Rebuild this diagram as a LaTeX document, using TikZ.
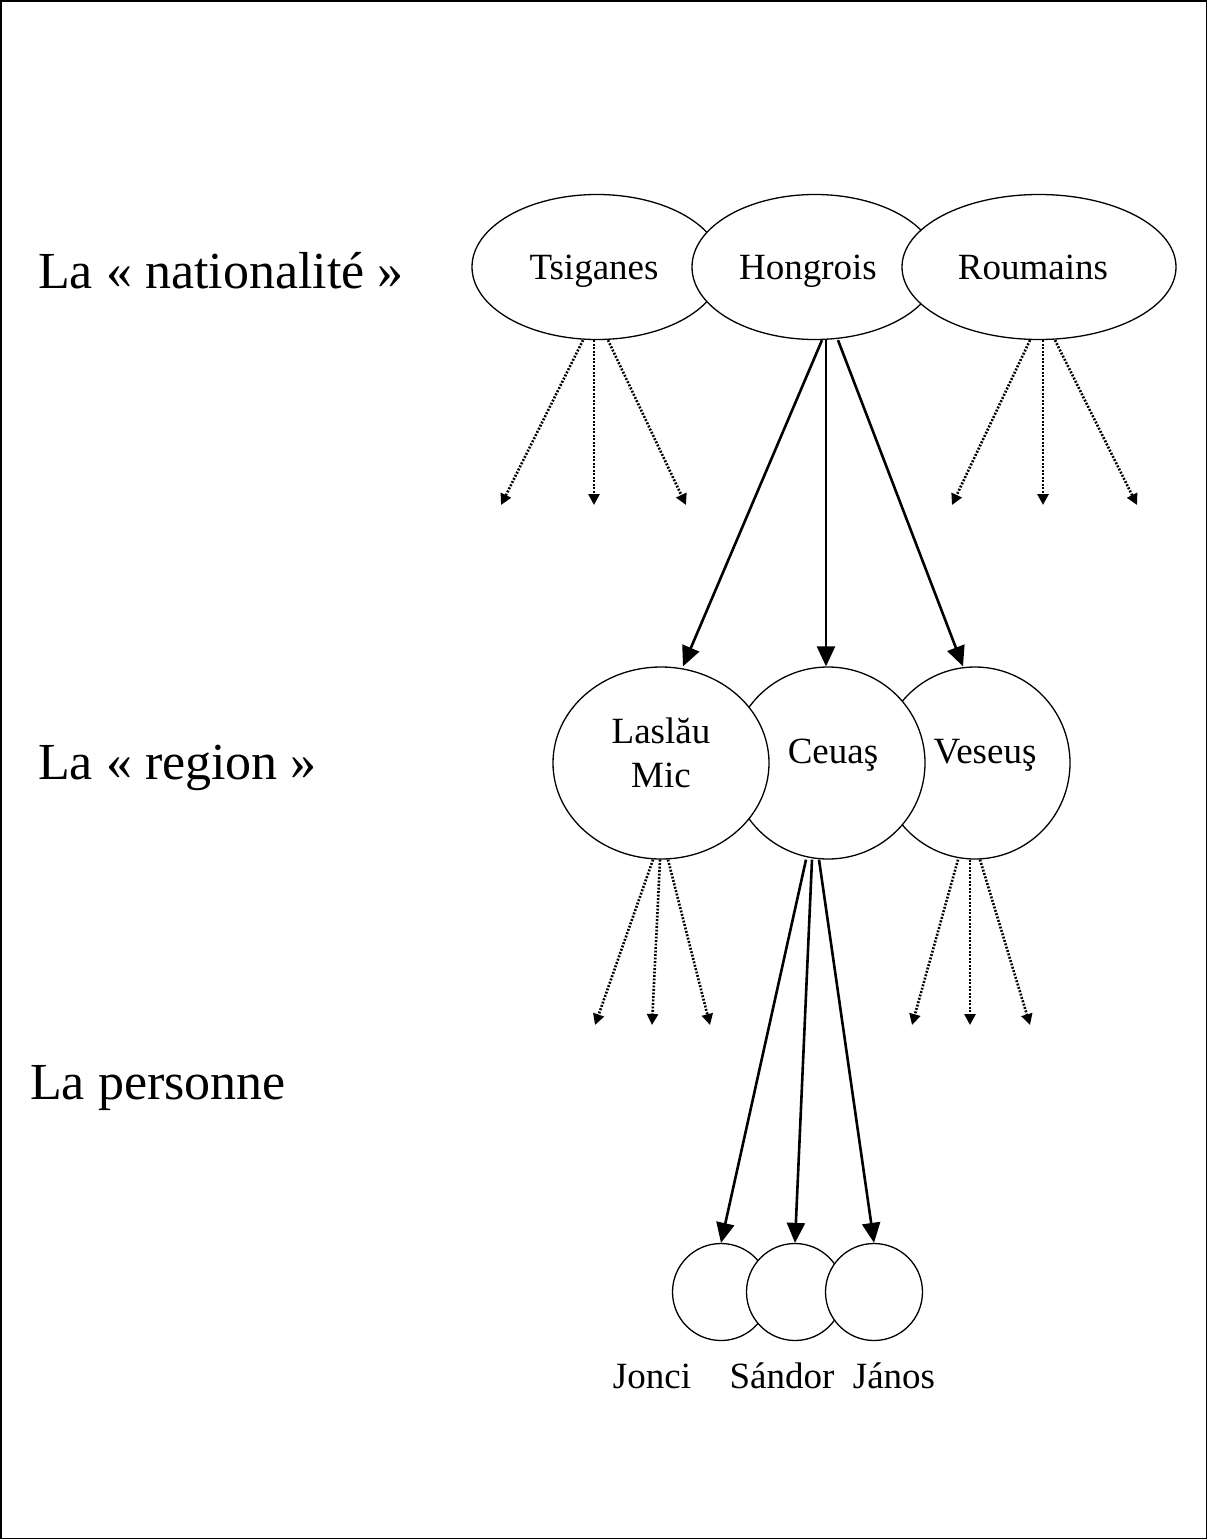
\documentclass[tikz,border=0pt]{standalone}
\usepackage{fontspec}
\setmainfont{Liberation Serif}
\usetikzlibrary{shapes.geometric,arrows.meta}
\begin{document}
\begin{tikzpicture}[x=1pt,y=-1pt,
  groupnode/.style={ellipse,draw,fill=white,line width=1.3pt,inner sep=0pt,
    font=\fontsize{37}{44}\selectfont,align=center,text height=24pt,text depth=0pt},
  personnode/.style={circle,draw,fill=white,line width=1.3pt,inner sep=0pt,minimum size=97pt},
  levelcaption/.style={anchor=base west,inner sep=0pt,font=\fontsize{52}{60}\selectfont},
  personname/.style={anchor=base,inner sep=0pt,font=\fontsize{37}{42}\selectfont},
  solidarrow/.style={line width=2.6pt,-{Triangle[length=20pt,width=18pt]}},
  dotarrow/.style={line width=2.6pt,dash pattern=on 1.9pt off 1.6pt,-{Triangle[length=11pt,width=11pt]}},
]
\useasboundingbox (0,0) rectangle (1207,1539);
\draw[line width=1.5pt] (0.75,0.75) rectangle (1206.25,1538.25);

% level captions
\node[levelcaption] (lnat) at (38,288) {La « nationalité »};
\node[levelcaption] (lreg) at (38,779) {La « region »};
\node[levelcaption] (lper) at (30,1099) {La personne};

% nationalities (drawn left to right, each covering the previous one)
\node[groupnode,minimum width=250pt,minimum height=145pt] (tsig) at (597,267) {Tsiganes\hspace*{6pt}};
\node[groupnode,minimum width=246pt,minimum height=145pt] (hong) at (815,267) {Hongrois\hspace*{14pt}};
\node[groupnode,minimum width=274pt,minimum height=145pt] (roum) at (1039,267) {Roumains\hspace*{12pt}};

% regions (drawn right to left)
\node[groupnode,minimum width=190pt,minimum height=192pt,text depth=24pt] (vese) at (975,763) {\hspace*{20pt}Veseuş};
\node[groupnode,minimum width=194pt,minimum height=192pt,text depth=24pt] (ceua) at (828,763) {\hspace*{10pt}Ceuaş};
\node[groupnode,minimum width=216pt,minimum height=192pt,text height=48pt] (lasl) at (661,763) {Laslău\\Mic};

% persons
\node[personnode] (jonc) at (721,1292) {};
\node[personnode] (sand) at (795,1292) {};
\node[personnode] (jano) at (874,1292) {};
\node[personname] (njonc) at (652,1388) {Jonci};
\node[personname] (nsand) at (782,1388) {Sándor};
\node[personname] (njano) at (894,1388) {János};

% open ends of the dotted arrows
\coordinate (t1) at (501,505);
\coordinate (t2) at (594,505);
\coordinate (t3) at (686,505);
\coordinate (r1) at (952,505);
\coordinate (r2) at (1043,505);
\coordinate (r3) at (1137,505);
\coordinate (l1) at (595,1025);
\coordinate (l2) at (652,1025);
\coordinate (l3) at (710,1025);
\coordinate (v1) at (912,1025);
\coordinate (v2) at (970,1025);
\coordinate (v3) at (1030,1025);

\draw[dotarrow] ([xshift=-14pt]tsig.south) -- (t1);
\draw[dotarrow] ([xshift=-3pt]tsig.south) -- (t2);
\draw[dotarrow] ([xshift=11pt]tsig.south) -- (t3);
\draw[dotarrow] ([xshift=-9pt]roum.south) -- (r1);
\draw[dotarrow] ([xshift=4pt]roum.south) -- (r2);
\draw[dotarrow] ([xshift=16pt]roum.south) -- (r3);
\draw[dotarrow] ([xshift=-8pt]lasl.south) -- (l1);
\draw[dotarrow] ([xshift=-1pt]lasl.south) -- (l2);
\draw[dotarrow] ([xshift=7pt]lasl.south) -- (l3);
\draw[dotarrow] ([xshift=-17pt]vese.south) -- (v1);
\draw[dotarrow] ([xshift=-5pt]vese.south) -- (v2);
\draw[dotarrow] ([xshift=5pt]vese.south) -- (v3);

% solid branches
\draw[solidarrow] ([xshift=7pt]hong.south) -- ([xshift=22pt]lasl.north);
\draw[solidarrow] ([xshift=11pt]hong.south) -- ([xshift=-2pt]ceua.north);
\draw[solidarrow] ([xshift=23pt]hong.south) -- ([xshift=-12pt]vese.north);
\draw[solidarrow] ([xshift=-22pt]ceua.south) -- (jonc.north);
\draw[solidarrow] ([xshift=-16pt]ceua.south) -- (sand.north);
\draw[solidarrow] ([xshift=-9pt]ceua.south) -- (jano.north);
\end{tikzpicture}
\end{document}
